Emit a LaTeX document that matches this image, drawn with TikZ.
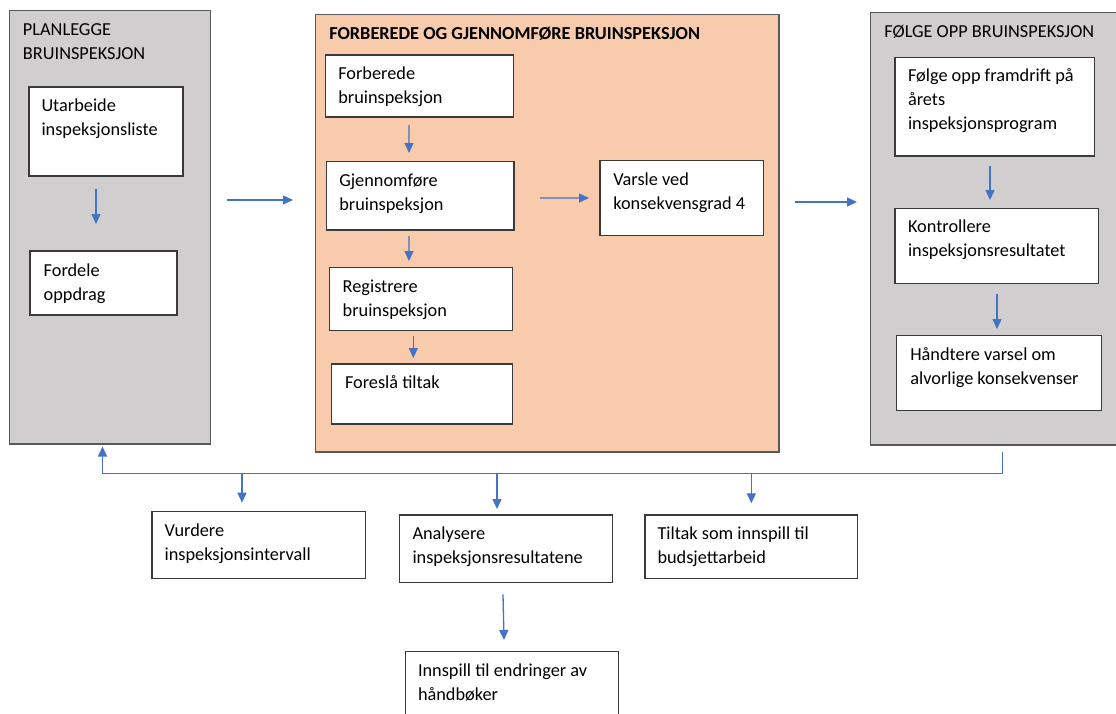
\documentclass[tikz,border=0pt]{standalone}
\usepackage{fontspec}
\setmainfont{Carlito}
\usetikzlibrary{arrows.meta,calc}
\definecolor{arrblue}{HTML}{4472C4}
\definecolor{panelgray}{HTML}{D0CECE}
\definecolor{peach}{HTML}{F8CBAD}
\definecolor{edgegray}{HTML}{3A3A3A}
\definecolor{paneledge}{HTML}{595959}
% \mkbox[style]{name}{x1}{y1}{x2}{y2}
\newcommand\mkbox[6][whitebox]{\node[#1, anchor=north west, minimum width={#5-#3}, minimum height={#6-#4}] (#2) at (#3,#4) {};}
% \mktext{name}{x}{baseline y}{lines}
\newcommand\mktext[4]{\node[txt] (#1) at (#2,#3) {\begin{tabular}[t]{@{}l@{}}#4\end{tabular}};}
\begin{document}
\begin{tikzpicture}[x=1pt,y=-1pt,
  font=\fontsize{18.3}{24}\selectfont,
  whitebox/.style={draw=edgegray, line width=1.2pt, fill=white, inner sep=0pt, outer sep=0pt},
  graypanel/.style={draw=paneledge, line width=1.5pt, fill=panelgray, inner sep=0pt, outer sep=0pt},
  peachpanel/.style={draw=paneledge, line width=1.5pt, fill=peach, inner sep=0pt, outer sep=0pt},
  txt/.style={anchor=base west, inner sep=0pt, outer sep=0pt, text=black},
  arr/.style={draw=arrblue, line width=1.3pt, -{Triangle[length=10pt,width=9pt]}},
  link/.style={draw=arrblue, line width=1.3pt}]
\useasboundingbox (0,0) rectangle (1116,713);
\fill[white] (0,0) rectangle (1116,713);

% panels
\mkbox[graypanel]{plan}{9.5}{10.7}{210.7}{444}
\mkbox[peachpanel]{forb}{315.7}{14.7}{779}{452}
\mkbox[graypanel]{folg}{870.7}{12.7}{1122}{445}

% boxes
\mkbox{utarb}{29}{87}{183}{176}
\mkbox{fordele}{30}{251}{177}{315}
\mkbox{forbered}{325.7}{55}{513.7}{117}
\mkbox{gjenn}{326.7}{161.7}{514}{230}
\mkbox{regist}{329.7}{267.7}{512.3}{330.7}
\mkbox{foresla}{331.7}{364}{512.7}{424}
\mkbox{varsle}{600}{160.3}{763.3}{235.7}
\mkbox{folgeopp}{895}{57.3}{1094.3}{156}
\mkbox{kontr}{895}{208.7}{1098.3}{283.3}
\mkbox{handt}{896.7}{335.7}{1101.7}{410.7}
\mkbox{vurd}{152}{511.3}{365.4}{578.3}
\mkbox{analy}{399.8}{515}{612.5}{582.3}
\mkbox{tiltak}{645}{515}{857.7}{578.3}
\mkbox{innsp}{405.7}{651.3}{618.5}{722}

% texts
\mktext{t-plan}{23}{35}{PLANLEGGE\\BRUINSPEKSJON}
\mktext{t-forb}{329.3}{39.3}{\bfseries FORBEREDE OG GJENNOMFØRE BRUINSPEKSJON}
\mktext{t-folg}{884.3}{37.7}{FØLGE OPP BRUINSPEKSJON}
\mktext{t-utarb}{41.5}{111.7}{Utarbeide\\inspeksjonsliste}
\mktext{t-fordele}{43.7}{276}{Fordele\\oppdrag}
\mktext{t-forbered}{338.3}{79.3}{Forberede\\bruinspeksjon}
\mktext{t-gjenn}{339.3}{186}{Gjennomføre\\bruinspeksjon}
\mktext{t-regist}{342.7}{292.3}{Registrere\\bruinspeksjon}
\mktext{t-foresla}{345}{388.7}{Foreslå tiltak}
\mktext{t-varsle}{613.3}{185}{Varsle ved\\konsekvensgrad 4}
\mktext{t-folgeopp}{908}{81.7}{Følge opp framdrift på\\årets\\inspeksjonsprogram}
\mktext{t-kontr}{908}{232.7}{Kontrollere\\inspeksjonsresultatet}
\mktext{t-handt}{910.3}{360.7}{Håndtere varsel om\\alvorlige konsekvenser}
\mktext{t-vurd}{164.6}{536}{Vurdere\\inspeksjonsintervall}
\mktext{t-analy}{412.5}{539.3}{Analysere\\inspeksjonsresultatene}
\mktext{t-tiltak}{657.5}{539.3}{Tiltak som innspill til\\budsjettarbeid}
\mktext{t-innsp}{418}{676}{Innspill til endringer av\\håndbøker}

% arrows inside panels
\draw[arr] ($(utarb.south)+(-10,13)$) -- ($(fordele.north)+(-7.5,-27)$);
\draw[arr] ($(forbered.south)+(-10.7,8)$) -- ($(gjenn.north)+(-11.35,-8.7)$);
\draw[arr] ($(gjenn.south)+(-11.35,6)$) -- ($(regist.north)+(-12,-6.7)$);
\draw[arr] ($(regist.south)+(-7.7,5.3)$) -- ($(foresla.north)+(-8.9,-6)$);
\draw[arr] ($(gjenn.east)+(26,2.15)$) -- ($(varsle.west)+(-11,0)$);
\draw[arr] ($(folgeopp.south)+(-4.65,10)$) -- ($(kontr.north)+(-6.65,-8.7)$);
\draw[arr] ($(kontr.south)+(0.35,10.7)$) -- ($(handt.north)+(-2.2,-6.7)$);

% arrows between panels
\draw[arr] ($(plan.east)+(16.3,-27.35)$) -- ($(forb.west)+(-22.7,-33.35)$);
\draw[arr] ($(forb.east)+(16,-31.35)$) -- ($(folg.west)+(-13.7,-26.85)$);

% feedback bus
\coordinate (busR) at ($(folg.south)+(6.35,28.7)$);
\draw[arr] ($(folg.south)+(6.35,7)$) -- (busR) -| ($(plan.south)+(-7.6,2.5)$);
\draw[arr] ($(vurd.north)+(-16.7,-37.6)$) -- ($(vurd.north)+(-16.7,-8.6)$);
\draw[arr] ($(analy.north)+(-9.15,-41.3)$) -- ($(analy.north)+(-9.15,-6)$);
\draw[arr] ($(tiltak.north)+(0,-41.3)$) -- ($(tiltak.north)+(0,-11.7)$);
\draw[arr] ($(analy.south)+(-3.15,12)$) -- ($(innsp.north)+(-8.1,-11.3)$);
\end{tikzpicture}
\end{document}
